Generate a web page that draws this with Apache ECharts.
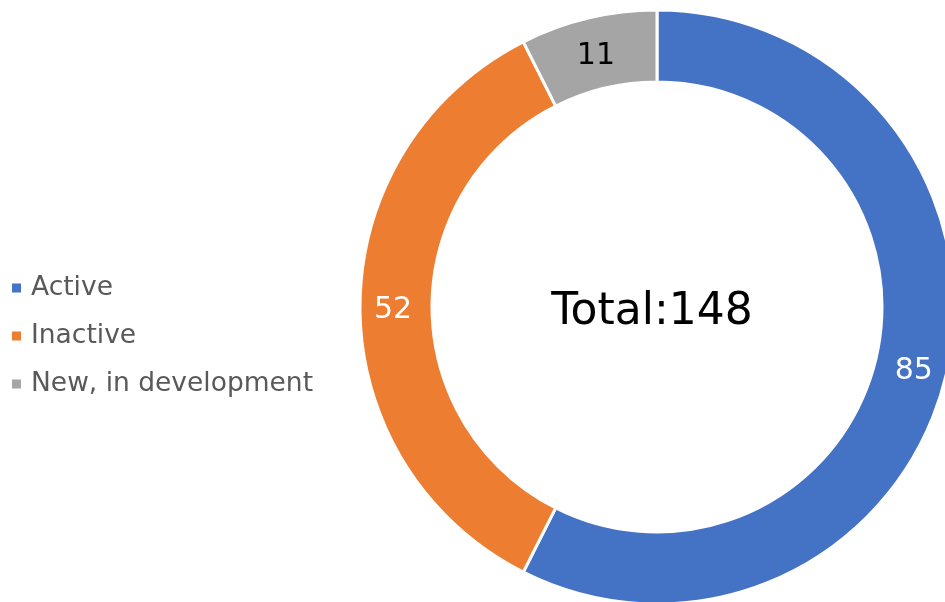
<!DOCTYPE html>
<html>
<head>
<meta charset="utf-8">
<script src="https://cdn.jsdelivr.net/npm/echarts@6/dist/echarts.min.js"></script>
<style>html,body{margin:0;padding:0;background:#fff}#c{width:945px;height:602px}</style>
</head>
<body>
<div id="c"></div>
<script>
const categories = ['Active', 'Inactive', 'New, in development'];
const values = [85, 52, 11];
const colors = ['#4472C4', '#ED7D31', '#A5A5A5'];
const labelColors = ['#ffffff', '#ffffff', '#000000'];
const totalText = 'Total:' + values.reduce((a, b) => a + b, 0);

const chart = echarts.init(document.getElementById('c'), null, {renderer: 'canvas'});
chart.setOption({
  animation: false,
  color: colors,
  legend: {
    orient: 'vertical',
    left: 5,
    top: 268,
    padding: 5,
    icon: 'rect',
    itemWidth: 11,
    itemHeight: 11,
    itemGap: 18,
    textStyle: {
      fontFamily: 'DejaVu Sans',
      fontSize: 26.5,
      color: '#595959',
      lineHeight: 30,
      padding: [0, 0, 0, 4]
    },
    data: categories
  },
  graphic: [{
    type: 'text',
    x: 652,
    y: 313,
    style: {
      text: totalText,
      fontFamily: 'DejaVu Sans',
      fontSize: 44,
      fill: '#000000',
      align: 'center',
      verticalAlign: 'middle'
    }
  }],
  series: [{
    type: 'pie',
    center: [657, 307],
    radius: [225, 297],
    startAngle: 90,
    clockwise: true,
    avoidLabelOverlap: false,
    itemStyle: { borderColor: '#ffffff', borderWidth: 3 },
    label: {
      show: true,
      position: 'inside',
      fontFamily: 'DejaVu Sans',
      fontSize: 30,
      offset: [0, 3],
      formatter: '{c}'
    },
    labelLine: { show: false },
    emphasis: { disabled: true },
    data: categories.map((n, i) => ({
      name: n,
      value: values[i],
      label: { color: labelColors[i], offset: i === 2 ? [0, 6] : [0, 3] }
    }))
  }]
});
</script>
</body>
</html>
